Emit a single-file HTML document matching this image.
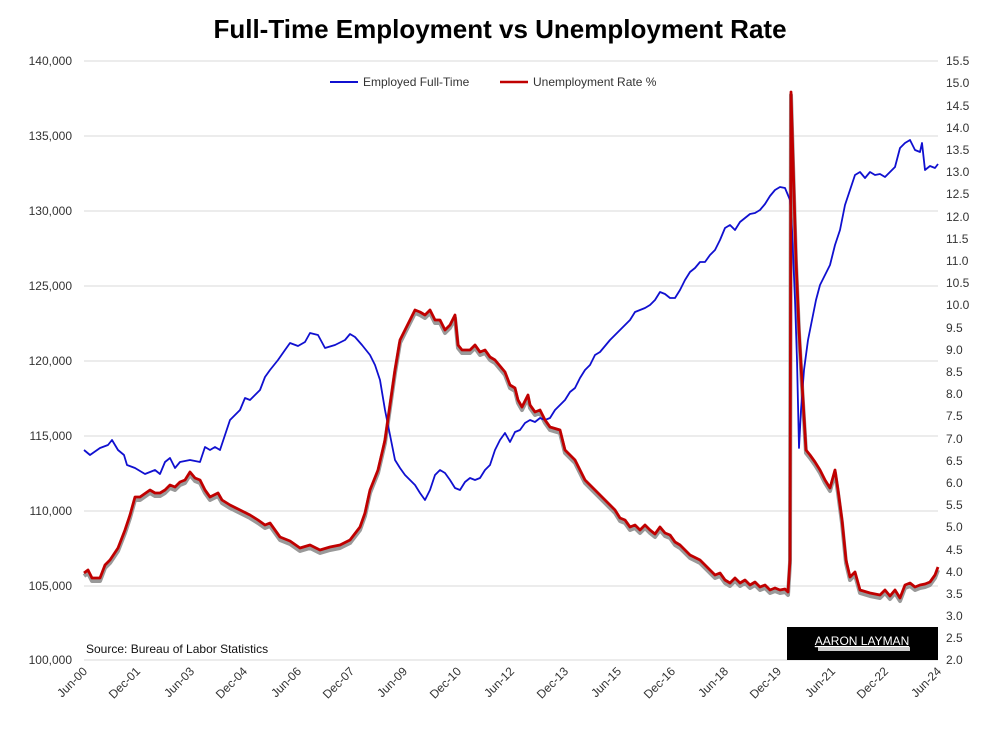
<!DOCTYPE html>
<html><head><meta charset="utf-8"><style>
body{margin:0;background:#fff;}
svg text{font-family:"Liberation Sans",sans-serif;}
</style></head><body>
<svg width="1000" height="726" viewBox="0 0 1000 726" xmlns="http://www.w3.org/2000/svg">
<rect width="1000" height="726" fill="#fff"/>
<text x="500" y="38" text-anchor="middle" font-size="26" font-weight="bold" fill="#000">Full-Time Employment vs Unemployment Rate</text>
<g stroke="#d9d9d9" stroke-width="1">
<line x1="84" y1="61" x2="938" y2="61"/><line x1="84" y1="136" x2="938" y2="136"/>
<line x1="84" y1="211" x2="938" y2="211"/><line x1="84" y1="286" x2="938" y2="286"/>
<line x1="84" y1="361" x2="938" y2="361"/><line x1="84" y1="436" x2="938" y2="436"/>
<line x1="84" y1="511" x2="938" y2="511"/><line x1="84" y1="586" x2="938" y2="586"/>
<line x1="84" y1="660" x2="938" y2="660"/>
</g>
<g font-size="12" fill="#333" text-anchor="end">
<text x="72" y="65">140,000</text><text x="72" y="140">135,000</text><text x="72" y="215">130,000</text>
<text x="72" y="290">125,000</text><text x="72" y="365">120,000</text><text x="72" y="440">115,000</text>
<text x="72" y="515">110,000</text><text x="72" y="590">105,000</text><text x="72" y="664">100,000</text>
</g>
<g font-size="12" fill="#333">
<text x="946" y="65">15.5</text><text x="946" y="87">15.0</text><text x="946" y="110">14.5</text>
<text x="946" y="132">14.0</text><text x="946" y="154">13.5</text><text x="946" y="176">13.0</text>
<text x="946" y="198">12.5</text><text x="946" y="221">12.0</text><text x="946" y="243">11.5</text>
<text x="946" y="265">11.0</text><text x="946" y="287">10.5</text><text x="946" y="309">10.0</text>
<text x="946" y="332">9.5</text><text x="946" y="354">9.0</text><text x="946" y="376">8.5</text>
<text x="946" y="398">8.0</text><text x="946" y="420">7.5</text><text x="946" y="443">7.0</text>
<text x="946" y="465">6.5</text><text x="946" y="487">6.0</text><text x="946" y="509">5.5</text>
<text x="946" y="531">5.0</text><text x="946" y="554">4.5</text><text x="946" y="576">4.0</text>
<text x="946" y="598">3.5</text><text x="946" y="620">3.0</text><text x="946" y="642">2.5</text>
<text x="946" y="664">2.0</text>
</g>
<g font-size="12" fill="#333" text-anchor="end">
<text transform="translate(88,672) rotate(-45)">Jun-00</text>
<text transform="translate(141,672) rotate(-45)">Dec-01</text>
<text transform="translate(195,672) rotate(-45)">Jun-03</text>
<text transform="translate(248,672) rotate(-45)">Dec-04</text>
<text transform="translate(302,672) rotate(-45)">Jun-06</text>
<text transform="translate(355,672) rotate(-45)">Dec-07</text>
<text transform="translate(408,672) rotate(-45)">Jun-09</text>
<text transform="translate(462,672) rotate(-45)">Dec-10</text>
<text transform="translate(515,672) rotate(-45)">Jun-12</text>
<text transform="translate(569,672) rotate(-45)">Dec-13</text>
<text transform="translate(622,672) rotate(-45)">Jun-15</text>
<text transform="translate(676,672) rotate(-45)">Dec-16</text>
<text transform="translate(729,672) rotate(-45)">Jun-18</text>
<text transform="translate(782,672) rotate(-45)">Dec-19</text>
<text transform="translate(836,672) rotate(-45)">Jun-21</text>
<text transform="translate(889,672) rotate(-45)">Dec-22</text>
<text transform="translate(942,672) rotate(-45)">Jun-24</text>
</g>
<line x1="330" y1="82" x2="358" y2="82" stroke="#1010d0" stroke-width="2"/>
<text x="363" y="86" font-size="12" fill="#333">Employed Full-Time</text>
<line x1="500" y1="82" x2="528" y2="82" stroke="#c00000" stroke-width="2.5"/>
<text x="533" y="86" font-size="12" fill="#333">Unemployment Rate %</text>
<text x="86" y="653" font-size="12" fill="#111">Source: Bureau of Labor Statistics</text>
<rect x="787" y="627" width="151" height="33" fill="#000"/>
<text x="862" y="645" font-size="12" fill="#fff" text-anchor="middle" text-decoration="underline">AARON LAYMAN</text>
<rect x="818" y="647" width="92" height="4" fill="#ccc"/>
<polyline fill="none" stroke="#999" stroke-width="4" stroke-linejoin="round" transform="translate(0,3)" points="84,573 88,570 92,578 100,578 105,565 110,560 118,548 125,530 130,515 135,497 140,497 150,490 155,493 160,493 165,490 170,485 175,487 180,482 185,480 190,472 195,478 200,480 205,490 210,497 218,493 222,500 230,505 240,510 250,515 258,520 265,525 270,523 280,537 290,541 300,548 310,545 320,550 330,547 340,545 350,540 360,527 365,513 370,490 378,470 385,440 390,405 395,370 400,340 405,330 410,320 415,310 420,312 425,315 430,310 435,320 440,320 445,330 450,325 455,315 458,345 462,350 470,350 475,345 480,352 485,350 490,357 495,360 505,372 510,385 515,388 518,400 522,407 528,395 530,405 535,412 540,410 545,420 550,427 560,430 565,450 570,455 575,460 580,470 585,480 590,485 600,495 605,500 610,505 615,510 620,518 625,520 630,527 635,525 640,530 645,525 650,530 655,534 660,527 665,533 670,535 675,542 680,545 685,550 690,555 700,560 705,565 710,570 715,575 720,573 725,580 730,583 735,578 740,583 745,580 750,585 755,582 760,587 765,585 770,590 775,588 780,590 785,589 788,592 790,560 791,92 793,160 796,260 799,330 803,400 806,450 810,455 815,462 820,470 825,480 830,488 835,470 838,490 842,520 846,560 850,577 855,572 860,590 870,593 880,595 885,590 890,596 895,590 900,598 905,585 910,583 915,587 920,585 925,584 930,582 935,575 938,567"/>
<polyline fill="none" stroke="#1010d0" stroke-width="1.8" stroke-linejoin="round" points="84,450 90,455 100,448 108,445 112,440 118,450 124,455 127,465 135,468 145,474 155,470 160,474 165,462 170,458 175,468 180,462 190,460 200,462 205,447 210,450 215,447 220,450 230,420 240,410 245,398 250,400 260,390 265,377 270,370 278,360 285,350 290,343 298,346 305,342 310,333 318,335 325,348 335,345 345,340 350,334 355,337 362,345 370,355 375,365 380,380 385,410 390,435 395,460 400,468 405,475 415,485 420,493 425,500 430,490 435,475 440,470 445,473 450,480 455,488 460,490 465,482 470,478 475,480 480,478 485,470 490,465 495,450 500,440 505,433 510,442 515,432 520,430 525,423 530,420 535,422 540,418 545,420 550,418 555,410 560,405 565,400 570,392 575,388 580,378 585,370 590,365 595,355 600,352 605,346 610,340 615,335 620,330 625,325 630,320 635,312 640,310 645,308 650,305 655,300 660,292 665,294 670,298 675,298 680,290 685,280 690,272 695,268 700,262 705,262 710,255 715,250 720,240 725,228 730,225 735,230 740,222 745,218 750,214 755,213 760,210 765,204 770,196 775,190 780,187 785,188 790,200 792,230 795,300 797,360 799,448 801,410 804,370 808,340 812,320 816,300 820,285 825,275 830,265 835,245 840,230 845,205 850,190 855,175 860,172 865,178 870,172 875,175 880,174 885,177 890,172 895,167 900,148 905,143 910,140 915,150 920,152 922,143 925,170 930,166 935,168 938,164"/>
<polyline fill="none" stroke="#c00000" stroke-width="2.8" stroke-linejoin="round" points="84,573 88,570 92,578 100,578 105,565 110,560 118,548 125,530 130,515 135,497 140,497 150,490 155,493 160,493 165,490 170,485 175,487 180,482 185,480 190,472 195,478 200,480 205,490 210,497 218,493 222,500 230,505 240,510 250,515 258,520 265,525 270,523 280,537 290,541 300,548 310,545 320,550 330,547 340,545 350,540 360,527 365,513 370,490 378,470 385,440 390,405 395,370 400,340 405,330 410,320 415,310 420,312 425,315 430,310 435,320 440,320 445,330 450,325 455,315 458,345 462,350 470,350 475,345 480,352 485,350 490,357 495,360 505,372 510,385 515,388 518,400 522,407 528,395 530,405 535,412 540,410 545,420 550,427 560,430 565,450 570,455 575,460 580,470 585,480 590,485 600,495 605,500 610,505 615,510 620,518 625,520 630,527 635,525 640,530 645,525 650,530 655,534 660,527 665,533 670,535 675,542 680,545 685,550 690,555 700,560 705,565 710,570 715,575 720,573 725,580 730,583 735,578 740,583 745,580 750,585 755,582 760,587 765,585 770,590 775,588 780,590 785,589 788,592 790,560 791,92 793,160 796,260 799,330 803,400 806,450 810,455 815,462 820,470 825,480 830,488 835,470 838,490 842,520 846,560 850,577 855,572 860,590 870,593 880,595 885,590 890,596 895,590 900,598 905,585 910,583 915,587 920,585 925,584 930,582 935,575 938,567"/>
</svg>
</body></html>
